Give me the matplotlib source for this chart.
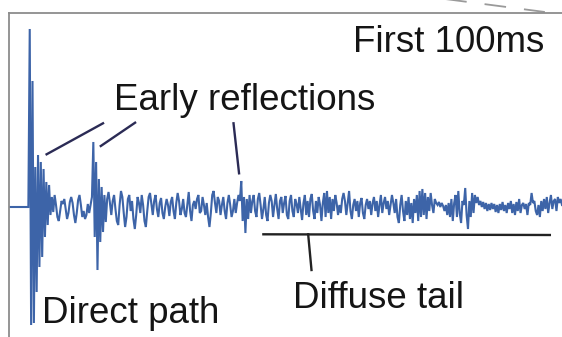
import numpy as np
import matplotlib
matplotlib.use("Agg")
import matplotlib.pyplot as plt

plt.rcParams["font.family"] = ["Liberation Sans", "DejaVu Sans"]

# ── Data: room impulse response, first 100 ms (amplitude in arbitrary units) ──
DT_MS = 0.25

pre_delay = [0, 0, 0, 0, 0, 0, 0, 0, 0, 0, 0, 0, 0, 0, 0]

direct_path = [178, -118, 126, -116, 40, -85, 52, -60, 45, -50, 38, -30,
               25, -18, 22, -8]

gap_1 = [10, -5, 12, 2, -10, -14, -4, 6, 3, 8, -2, -12, -6, 5, 10, 4, -8,
         -16, -6, 7, 12, 2, -10, -4, -12, -8, 3, -6, 2]

reflection_2 = [10, 65, -30, 45, -63, 28, -35, 20, -25, 12, -15]

gap_2 = [8, 15, 4, -8, 6, 12, -2, -14, -18, 2, 16, 10, -6, -20, -10, 8, 12,
         -4, 6, -12, -22, -8, 10, 4, -6, 12, 2, -14, -20, -4, 10, 14, 3, -8,
         6, 12, -2, -10, 4, 9, -6, -12, 0, 8, 2, -9, 5, 10, -4, -12, 4, 14,
         6, -8, -2, 8, -6, -10, 3, 15, -4, -14, 2, 6, -2, 8, 12, -6, -4, 10,
         2, -8, 4, -10, -20, -6, 12, 16, 4, -6, 10, 6, -8, 2, 10, -4, -12, 4,
         12, 2, -10, -4]

reflection_3 = [8, -6, 4, 12, 6, 26, -14, 10, -26, 8, -12, 12]

diffuse_tail = [
    -6, 6, 12, -4, -10, 8, 14, 2, -12, -2, 10, -8, -14, 4, 12, 6, -10, 2,
    13, -2, -12, 6, 10, -6, 4, 11, -8, -12, 6, 12, -4, -10, 8, 3, -6, 10,
    -2, -13, 4, 12, -8, 6, -10, 8, 13, -4, -12, 6, -6, 10, 2, -14, 4, 14,
    -10, 16, -6, 10, -12, 8, -4, 12, 4, -8, 2, -6, 8, 14, 6, -8, 4, 16,
    -4, -12, 2, 8, -4, 6, -10, 4, 9, -6, -12, 2, 8, -2, 6, -8, 4, 10, -4,
    6, -10, 2, 12, -6, 4, 10, -2, 6, -8, 2, 12, 4, -6, 8, -10, -16, 2, 12,
    -4, -14, 6, -8, 10, -12, 4, -16, 8, -6, 12, -14, 16, -10, 18, -8, 14,
    -12, 10, -4, 14, 2, -6, 8, 4, 2, 5, 0, 4, 1, -4, 2, -8, 4, -10, 8, -14,
    4, 12, -10, 16, -6, -16, 6, 2, 19, -8, -22, 6, -10, 14, -6, 12, 4, 10,
    2, 6, 0, 5, -2, 4, -4, 3, -3, 4, -2, 3, -5, 2, -6, 3, -3, 5, -4, 2, -6,
    4, -2, 6, -6, 3, -8, 5, -4, 8, -6, 2, 4, -2, 3, -8, 4, 2, 14, 4, 6, -4,
    -8, 2, -10, 6, -4, 8, -2, 10, -6, 4, 12, -2, 6, 8, -4, 10, 4, 8, 2,
]

amp = np.array(pre_delay + direct_path + gap_1 + reflection_2 + gap_2
               + reflection_3 + diffuse_tail, dtype=float)
t_ms = np.arange(len(amp)) * DT_MS

WAVE_COLOR  = "#3d64a8"
FRAME_COLOR = "#8c8c8c"
NOTE_COLOR  = "#2b2b55"
TEXT_COLOR  = "#151515"

# ── Figure ────────────────────────────────────────────────────────────────────
fig = plt.figure(figsize=(5.62, 3.37), dpi=100)
ax = fig.add_axes([9 / 562, 0, 553 / 562, 324 / 337])

ax.plot(t_ms, amp, color=WAVE_COLOR, linewidth=1.5, solid_joinstyle="miter")

ax.set_xlim(0, 100)
ax.set_ylim(-130, 194)
ax.set_xticks([])
ax.set_yticks([])
for side in ("right", "bottom"):
    ax.spines[side].set_visible(False)
for side in ("top", "left"):
    ax.spines[side].set_color(FRAME_COLOR)
    ax.spines[side].set_linewidth(1.3)

# zoom-indicator dashes leaving the frame at top right
ax.plot([76.1, 96.9], [210, 195], color="#9a9a9a", linewidth=1.3,
        dashes=(12, 10), clip_on=False)

# annotations
ax.text(96.9, 155, "First 100ms", fontsize=26.5, color=TEXT_COLOR,
        ha="right", va="baseline")
ax.text(19.0, 97, "Early reflections", fontsize=26.5, color=TEXT_COLOR,
        ha="left", va="baseline")
ax.text(5.9, -116, "Direct path", fontsize=26.5, color=TEXT_COLOR,
        ha="left", va="baseline")
ax.text(51.4, -101, "Diffuse tail", fontsize=26.5, color=TEXT_COLOR,
        ha="left", va="baseline")

ax.plot([6.8, 17.0], [52.7, 83.7], color=NOTE_COLOR, linewidth=1.7)
ax.plot([16.6, 22.8], [61, 84.3], color=NOTE_COLOR, linewidth=1.7)
ax.plot([40.6, 41.6], [83.7, 33.7], color=NOTE_COLOR, linewidth=1.7)

ax.plot([46.0, 97.8], [-27.3, -28], color="#222222", linewidth=1.7)
ax.plot([54.1, 54.7], [-27.3, -63], color="#222222", linewidth=1.7)

fig.savefig("out.png", dpi=100)
